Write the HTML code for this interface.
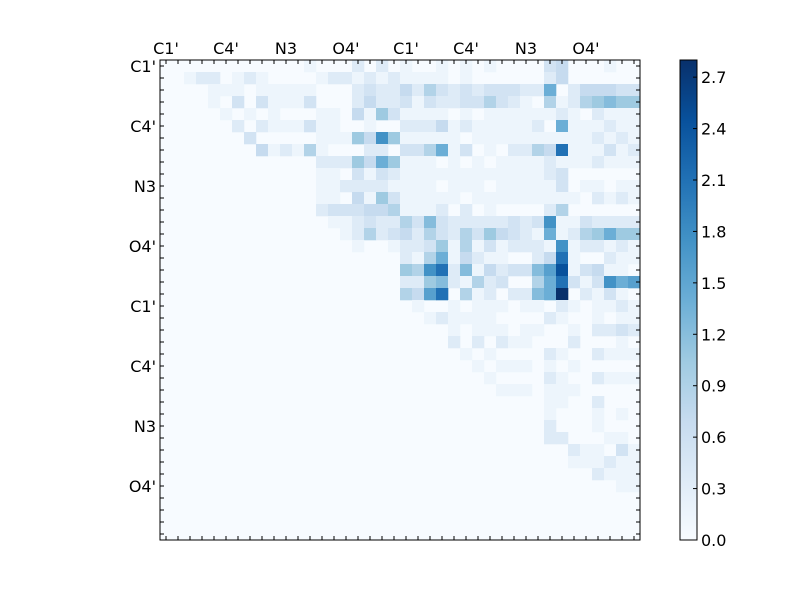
<!DOCTYPE html>
<html><head><meta charset="utf-8"><style>
body{margin:0;background:#fff;}
svg text{font-family:"DejaVu Sans","Liberation Sans",sans-serif;font-size:16px;fill:#000;}
</style></head><body>
<svg id="s" width="800" height="600" xmlns="http://www.w3.org/2000/svg">
<defs><linearGradient id="g" x1="0" y1="1" x2="0" y2="0">
<stop offset="0" stop-color="#f7fbff"/><stop offset="0.125" stop-color="#deebf7"/><stop offset="0.25" stop-color="#c6dbef"/><stop offset="0.375" stop-color="#9ecae1"/><stop offset="0.5" stop-color="#6baed6"/><stop offset="0.625" stop-color="#4292c6"/><stop offset="0.75" stop-color="#2171b5"/><stop offset="0.875" stop-color="#08519c"/><stop offset="1" stop-color="#08306b"/>
</linearGradient></defs>
<rect x="160" y="60" width="480" height="480" fill="#f7fbff"/>
<g id="cells"></g>
<rect x="160" y="60" width="480" height="480" fill="none" stroke="#000" stroke-width="1"/>
<g id="ticks" stroke="#000" stroke-width="1"></g>
<g>
<text x="166" y="54" text-anchor="middle">C1'</text><text x="226" y="54" text-anchor="middle">C4'</text><text x="286" y="54" text-anchor="middle">N3</text><text x="346" y="54" text-anchor="middle">O4'</text>
<text x="406" y="54" text-anchor="middle">C1'</text><text x="466" y="54" text-anchor="middle">C4'</text><text x="526" y="54" text-anchor="middle">N3</text><text x="586" y="54" text-anchor="middle">O4'</text>
<text x="156" y="72" text-anchor="end">C1'</text><text x="156" y="132" text-anchor="end">C4'</text><text x="156" y="192" text-anchor="end">N3</text><text x="156" y="252" text-anchor="end">O4'</text>
<text x="156" y="312" text-anchor="end">C1'</text><text x="156" y="372" text-anchor="end">C4'</text><text x="156" y="432" text-anchor="end">N3</text><text x="156" y="492" text-anchor="end">O4'</text>
</g>
<rect x="680" y="60" width="17" height="480" fill="url(#g)" stroke="#000" stroke-width="1"/>
<g id="cb"></g>
</svg>
<script>
var R=[
"0000000000001000202010010101000034000100",
"0012201210000122121211110100000024000000",
"0000111011111000232242532323332280244433",
"0000103031113000242231322335321051256766",
"0000010101000110416311110101111112102111",
"0000002021113110010022241211111208111211",
"000000030000011164A611111011111111112121",
"000000004121510002203358130102254C111312",
"0000000000000222648611101010111121112111",
"0000000000000110313211111111111123000000",
"0000000000000112222111101110111113011011",
"0000000000000110416311111011111111102121",
"0000000000000233344511120201000025000000",
"00000000000000112322537322222323A1132222",
"0000000000000001252342532536432181256866",
"000000000000000010012236151312221A122121",
"000000000000000000002158142110024C100211",
"0000000000000000000065AC271423379E134110",
"000000000000000000002267215230058C313A89",
"00000000000000000000549C051202278F021310",
"0000000000000000000001001011101102101121",
"0000000000000000000000121111000021001011",
"0000000000000000000000001011101100102232",
"0000000000000000000000002020211000200010",
"0000000000000000000000000101000021002111",
"0000000000000000000000000010111010100000",
"0000000000000000000000000001000021002111",
"0000000000000000000000000000111011100000",
"0000000000000000000000000000000011002000",
"0000000000000000000000000000000010001010",
"0000000000000000000000000000000020001000",
"0000000000000000000000000000000022000110",
"0000000000000000000000000000000000211031",
"0000000000000000000000000000000000111211",
"0000000000000000000000000000000000002111",
"0000000000000000000000000000000000000011"];
var st=[[247,251,255],[222,235,247],[198,219,239],[158,202,225],[107,174,214],[66,146,198],[33,113,181],[8,81,156],[8,48,107]];
function col(f){f=Math.max(0,Math.min(1,f))*8;var i=Math.min(7,Math.floor(f)),t=f-i,a=st[i],b=st[i+1];
return "rgb("+[0,1,2].map(function(k){return Math.round(a[k]+(b[k]-a[k])*t)}).join(",")+")";}
var h="";
for(var r=0;r<R.length;r++)for(var c=0;c<40;c++){var v=parseInt(R[r][c],16);if(!v)continue;
var f=v==15?1:v/16;if(v==1)f=0.05;
h+='<rect x="'+(160+c*12)+'" y="'+(60+r*12)+'" width="12.3" height="12.3" fill="'+col(f)+'"/>';}
document.getElementById("cells").innerHTML=h;
var t="";
for(var i=0;i<40;i++){var p=166+i*12;
t+='<line x1="'+p+'" y1="60" x2="'+p+'" y2="64"/><line x1="'+p+'" y1="540" x2="'+p+'" y2="536"/>';
var q=66+i*12;
t+='<line x1="160" y1="'+q+'" x2="164" y2="'+q+'"/><line x1="640" y1="'+q+'" x2="636" y2="'+q+'"/>';}
document.getElementById("ticks").innerHTML=t;
var cb="";
for(var k=0;k<=9;k++){var v=k*0.3,y=540-v/2.8*480;
cb+='<line x1="697" y1="'+y+'" x2="693" y2="'+y+'" stroke="#000"/><text x="701" y="'+(y+6)+'">'+v.toFixed(1)+'</text>';}
document.getElementById("cb").innerHTML=cb;
</script>
</body></html>
